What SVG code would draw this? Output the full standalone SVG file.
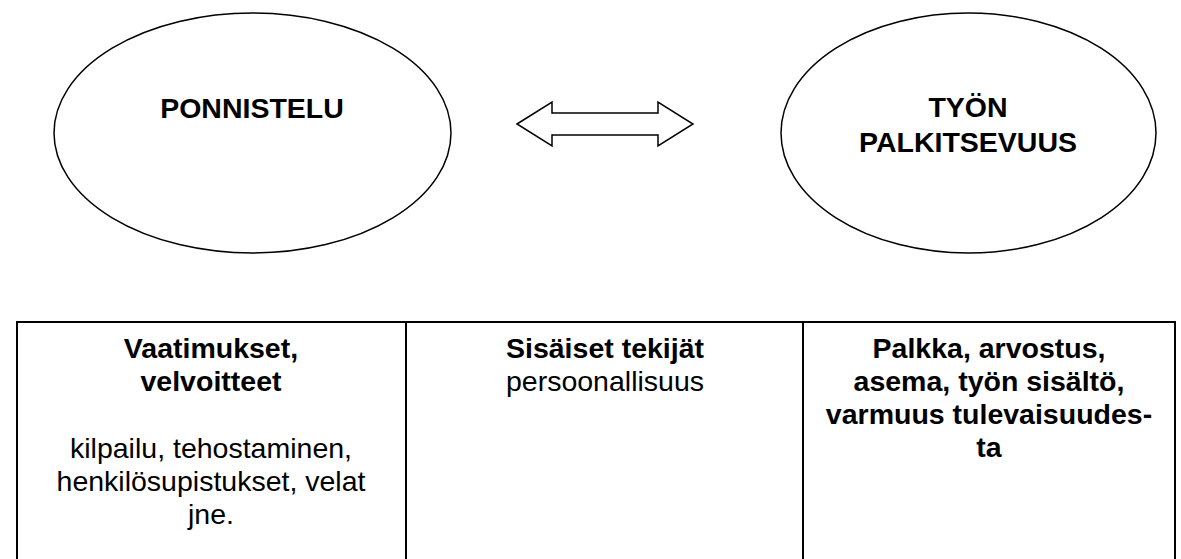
<svg xmlns="http://www.w3.org/2000/svg" width="1181" height="559" viewBox="0 0 1181 559">
<style>
.shape{fill:#fff;stroke:#000;stroke-width:1.5}
.grid{stroke:#000;stroke-width:2;fill:none}
text{font-family:"Liberation Sans",Arial,sans-serif;font-size:28.5px;fill:#000;text-anchor:middle}
.b{font-weight:bold}
</style>
<rect width="1181" height="559" fill="#fff"/>
<g id="ponnistelu">
<ellipse class="shape" cx="252.5" cy="133" rx="198.5" ry="120"/>
<text class="b" x="252" y="118">PONNISTELU</text>
</g>
<g id="palkitsevuus">
<ellipse class="shape" cx="968.5" cy="133" rx="187.5" ry="120"/>
<text class="b" x="968" y="117">TYÖN</text>
<text class="b" x="968" y="152">PALKITSEVUUS</text>
</g>
<g id="connectors">
<polygon class="shape" points="517,124 552,102 552,113 658,113 658,102 693,124 658,146 658,135 552,135 552,146"/>
</g>
<g id="table">
<line class="grid" x1="16" y1="322" x2="1176" y2="322" stroke-width="1.5"/>
<line class="grid" x1="17" y1="321" x2="17" y2="559"/>
<line class="grid" x1="406" y1="321" x2="406" y2="559"/>
<line class="grid" x1="803" y1="321" x2="803" y2="559"/>
<line class="grid" x1="1175" y1="321" x2="1175" y2="559"/>
</g>
<g id="cell1">
<text class="b" x="211" y="358">Vaatimukset,</text>
<text class="b" x="211" y="391">velvoitteet</text>
<text x="211" y="458">kilpailu, tehostaminen,</text>
<text x="211" y="491">henkilösupistukset, velat</text>
<text x="211" y="524">jne.</text>
</g>
<g id="cell2">
<text class="b" x="605" y="358">Sisäiset tekijät</text>
<text x="605" y="391">persoonallisuus</text>
</g>
<g id="cell3">
<text class="b" x="989" y="358">Palkka, arvostus,</text>
<text class="b" x="989" y="391">asema, työn sisältö,</text>
<text class="b" x="989" y="424">varmuus tulevaisuudes-</text>
<text class="b" x="989" y="457">ta</text>
</g>
</svg>
